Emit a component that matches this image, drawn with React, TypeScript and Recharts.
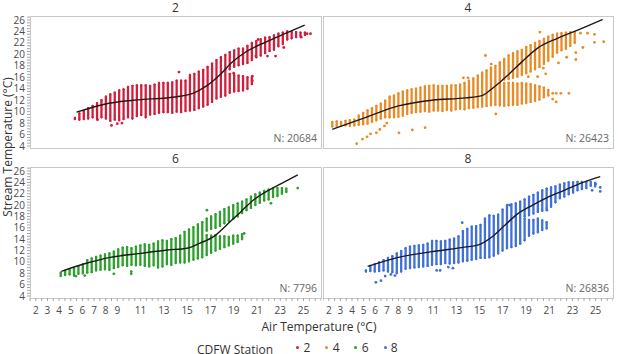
import React from "react";
import { ComposedChart, Scatter, Line, XAxis, YAxis, ErrorBar } from "recharts";

const FONT = "'Open Sans', sans-serif";

// air temperature is binned; every bin shows as one column of dots
const BIN = 0.38;

const X_LABELS = [2, 3, 4, 5, 6, 7, 8, 9, 11, 13, 15, 17, 19, 21, 23, 25];
const Y_LABELS = [4, 6, 8, 10, 12, 14, 16, 18, 20, 22, 24, 26];
const X_DOMAIN: [number, number] = [1.5, 26.5];
const Y_DOMAIN: [number, number] = [3.65, 26.7];
const X_TICKS = Array.from({ length: 51 }, (_, i) => 1.5 + i * 0.5);
const Y_TICKS = Array.from({ length: 46 }, (_, i) => 4 + i * 0.5);

// ---- station 2 ----
const RED_START = 5.36;
const RED_LO = [
  8.7, 8.6, 8.7, 8.8, 9.0, 8.7, 9.0, 8.8, 8.4, 8.6,
  8.5, 8.7, 9.0, 8.8, 9.2, 9.4, 9.0, 9.5, 9.6, 9.8,
  9.9, 9.9, 9.8, 10.0, 9.9, 10.1, 10.2, 10.3, 10.6, 10.9,
  11.2, 11.7, 12.3, 12.6, 12.8, 17.4, 17.8, 18.1, 18.3, 18.5,
  19.0, 19.5, 19.8, 20.2, 20.6, 20.8, 21.4, 21.8, 22.6, 22.8,
  23.0, 23.2, 23.4,
];
const RED_HI = [
  8.9, 9.7, 10.1, 10.6, 11.0, 11.5, 12.0, 12.6, 13.0, 13.3,
  13.7, 13.9, 14.3, 14.5, 14.6, 14.6, 14.6, 14.5, 14.7, 15.0,
  15.0, 15.0, 15.1, 15.4, 15.4, 15.4, 16.4, 16.6, 17.0, 17.3,
  17.8, 18.4, 19.0, 19.5, 19.9, 20.4, 20.7, 21.0, 21.0, 21.5,
  22.0, 22.3, 22.6, 22.9, 23.0, 23.3, 23.6, 23.8, 24.0, 23.9,
  23.9, 23.8, 23.8,
];
const RED_SPLIT_FROM = 35;
const RED_SPLIT_LO = [13.3, 13.5, 13.6, 13.7, 14.0, 14.8];
const RED_SPLIT_HI = [16.6, 16.4, 16.3, 16.2, 16.0, 15.9];
const RED_OUT = [
  [7.3, 8.6], [8.5, 7.6], [9.0, 7.9], [9.4, 8.0], [14.3, 16.9], [19.0, 16.7],
  [20.6, 15.4], [20.6, 16.2], [21.1, 22.6], [20.9, 19.7], [21.9, 19.7],
  [22.6, 19.7], [23.3, 21.2], [24.8, 23.0], [25.3, 23.6], [25.6, 23.6],
];
const RED_FIT_X = [5.5, 7.9, 10.4, 14.1, 15.5, 16.6, 17.8, 18.9, 20.1, 21.8, 23.5, 25.1];
const RED_FIT_Y = [9.9, 11.3, 12.0, 12.6, 13.2, 14.4, 16.4, 18.7, 20.5, 22.2, 23.7, 25.1];

// ---- station 4 ----
const ORANGE_START = 2.3;
const ORANGE_LO = [
  7.4, 7.5, 7.6, 7.6, 7.5, 7.6, 7.7, 7.8, 7.9, 8.2,
  8.5, 8.8, 9.0, 9.0, 9.0, 9.1, 9.3, 9.6, 9.8, 9.9,
  10.0, 10.1, 10.0, 10.2, 10.2, 10.1, 10.3, 10.2, 10.4, 10.5,
  10.4, 10.6, 10.7, 10.8, 10.9, 11.0, 11.1, 11.2, 15.5, 15.6,
  15.7, 15.9, 16.1, 16.4, 16.7, 17.0, 17.4, 17.8, 18.3, 18.9,
  19.6, 20.3, 20.7, 21.0, 21.5, 22.0,
];
const ORANGE_HI = [
  8.2, 8.3, 8.2, 8.4, 8.5, 8.6, 9.3, 9.8, 10.2, 10.6,
  11.0, 11.4, 11.9, 12.6, 12.8, 13.2, 13.5, 13.7, 13.9, 14.0,
  14.2, 14.4, 14.5, 14.6, 14.5, 14.5, 14.5, 14.6, 14.6, 14.7,
  15.0, 15.4, 15.8, 16.3, 16.8, 17.2, 17.7, 18.0, 18.6, 19.2,
  19.8, 20.2, 20.5, 20.8, 21.3, 21.6, 22.0, 22.3, 22.7, 23.1,
  23.4, 23.6, 23.7, 23.8, 23.9, 23.9,
];
const ORANGE_SPLIT_FROM = 38;
const ORANGE_SPLIT_LO = [11.1, 11.0, 11.1, 11.2, 11.2, 11.4, 11.5, 11.7, 11.9, 12.1, 12.5, 12.8];
const ORANGE_SPLIT_HI = [15.0, 15.0, 15.0, 15.0, 14.9, 15.0, 14.9, 14.8, 14.6, 14.4, 14.2, 13.8];
const ORANGE_OUT = [
  [4.4, 4.4], [4.9, 5.2], [5.3, 5.6], [5.6, 6.1], [6.1, 6.3], [6.4, 6.9],
  [6.8, 7.5], [7.0, 8.0], [8.05, 6.3], [9.2, 6.8], [10.3, 7.2], [16.4, 9.6],
  [13.6, 15.9], [14.0, 15.9], [15.5, 19.8], [16.0, 18.3], [20.2, 23.9],
  [19.2, 16.1], [20.0, 16.1], [20.7, 16.6], [20.5, 17.6], [21.8, 18.5],
  [22.5, 19.5], [23.3, 19.1], [23.3, 20.3], [23.9, 21.2], [24.9, 23.5],
  [24.9, 22.1], [25.7, 22.2], [24.3, 23.7], [23.7, 23.7], [21.3, 13.2],
  [21.6, 13.2], [22.0, 13.2], [22.7, 13.2], [21.3, 12.2], [21.6, 11.7],
];
const ORANGE_FIT_X = [2.3, 5.2, 8.0, 10.9, 13.8, 15.2, 16.3, 17.5, 18.6, 20.0, 21.7, 23.4, 25.6];
const ORANGE_FIT_Y = [6.9, 9.0, 11.0, 12.0, 12.4, 12.8, 14.4, 16.5, 18.6, 21.1, 22.8, 24.2, 26.1];

// ---- station 6 ----
const GREEN_START = 4.14;
const GREEN_LO = [
  7.5, 7.7, 7.8, 7.6, 7.9, 8.0, 8.1, 8.2, 8.5, 8.6,
  8.7, 8.6, 8.9, 9.1, 9.4, 9.3, 9.5, 9.4, 9.5, 9.3,
  9.2, 9.4, 9.0, 9.2, 9.6, 9.5, 9.8, 9.9, 9.9, 10.1,
  10.4, 10.6, 10.8, 15.5, 15.8, 16.0, 16.3, 16.8, 17.2, 17.6,
  18.0, 18.6, 19.1, 19.5, 20.0, 20.4, 20.8, 21.0, 21.4, 21.6,
  22.0, 22.3,
];
const GREEN_HI = [
  8.1, 8.4, 8.6, 8.9, 9.2, 9.6, 10.3, 10.6, 10.9, 11.1,
  11.3, 11.5, 11.8, 12.2, 12.5, 12.6, 12.4, 12.7, 12.9, 13.1,
  13.0, 13.2, 13.6, 13.8, 13.7, 14.0, 14.2, 14.6, 15.3, 15.7,
  16.1, 16.6, 17.0, 17.6, 18.0, 18.4, 18.8, 19.3, 19.6, 20.0,
  20.3, 20.6, 21.0, 21.5, 21.9, 22.2, 22.5, 22.7, 22.9, 23.0,
  23.0, 22.9,
];
const GREEN_SPLIT_FROM = 33;
const GREEN_SPLIT_LO = [11.2, 11.6, 12.0, 12.3, 12.6, 12.9, 13.2, 13.5, 14.0];
const GREEN_SPLIT_HI = [14.7, 14.6, 14.7, 14.5, 14.5, 14.4, 14.6, 14.6, 14.9];
const GREEN_OUT = [
  [5.45, 7.5], [6.2, 7.6], [8.7, 7.9], [10.2, 7.9], [10.2, 8.3],
  [16.7, 19.1], [22.2, 20.3], [24.5, 23.0], [19.9, 15.0],
];
const GREEN_FIT_X = [4.2, 6.4, 8.4, 11.0, 13.3, 15.0, 16.1, 17.3, 18.4, 19.6, 20.7, 21.9, 23.0, 24.5];
const GREEN_FIT_Y = [8.35, 9.8, 10.8, 11.5, 12.1, 12.4, 13.3, 14.5, 16.5, 18.8, 20.9, 22.5, 23.7, 25.3];

// ---- station 8 ----
const BLUE_START = 5.2;
const BLUE_LO = [
  8.3, 8.4, 8.3, 8.4, 8.5, 8.3, 8.2, 8.0, 8.3, 8.8,
  8.9, 9.0, 9.1, 9.2, 9.3, 9.5, 9.6, 9.6, 9.8, 9.7,
  9.8, 9.9, 10.1, 10.2, 10.4, 10.5, 10.7, 10.7, 10.8, 11.1,
  11.5, 12.0, 12.4, 12.6, 12.8, 13.2, 18.0, 18.2, 18.5, 18.8,
  19.0, 19.4, 19.7, 20.5, 21.2, 21.5, 21.9, 22.2, 22.6, 22.8,
  23.0, 23.4, 23.3,
];
const BLUE_HI = [
  8.5, 9.3, 9.6, 9.9, 10.3, 10.7, 11.0, 11.5, 11.9, 12.4,
  12.7, 12.8, 12.9, 13.0, 13.2, 13.7, 13.7, 13.6, 13.7, 13.9,
  14.1, 14.5, 15.4, 15.8, 16.2, 16.3, 16.5, 17.6, 18.2, 18.1,
  18.3, 19.2, 19.9, 20.1, 20.3, 20.6, 21.0, 21.5, 21.8, 22.2,
  22.6, 22.9, 23.1, 23.3, 23.6, 23.8, 24.0, 24.0, 24.1, 24.1,
  24.1, 24.1, 23.9,
];
const BLUE_SPLIT_FROM = 36;
const BLUE_SPLIT_LO = [13.8, 14.6, 15.0, 15.2, 15.6, 15.9];
const BLUE_SPLIT_HI = [17.6, 17.4, 17.4, 17.6, 17.3, 17.0];
const BLUE_OUT = [
  [6.06, 6.4], [6.5, 6.7], [6.86, 7.5], [7.35, 7.8], [7.7, 7.6],
  [11.3, 8.5], [11.6, 8.5], [12.3, 9.1], [12.7, 8.9], [13.5, 16.9],
  [17.4, 20.0], [17.6, 20.0], [20.8, 19.1], [25.0, 23.7], [25.4, 23.1],
  [25.4, 22.4], [24.7, 22.6],
];
const BLUE_FIT_X = [5.35, 8.0, 10.9, 13.7, 14.9, 16.0, 17.2, 18.3, 19.5, 20.9, 22.3, 23.8, 25.4];
const BLUE_FIT_Y = [9.2, 10.8, 11.8, 12.6, 13.0, 14.3, 16.5, 18.5, 19.9, 21.4, 22.6, 23.9, 25.0];

const NAMES = ["2", "4", "6", "8"];
const COLORS = ["#D21E3A", "#E98A25", "#2DA02D", "#3F6FDA"];
const COUNTS = [20684, 26423, 7796, 26836];

interface Station {
  name: string;
  color: string;
  n: number;
  start: number;
  lo: number[];
  hi: number[];
  splitFrom: number;
  splitLo: number[];
  splitHi: number[];
  outliers: number[][];
  fitX: number[];
  fitY: number[];
}

const STATIONS: Station[] = [
  { start: RED_START, lo: RED_LO, hi: RED_HI, splitFrom: RED_SPLIT_FROM, splitLo: RED_SPLIT_LO, splitHi: RED_SPLIT_HI, outliers: RED_OUT, fitX: RED_FIT_X, fitY: RED_FIT_Y },
  { start: ORANGE_START, lo: ORANGE_LO, hi: ORANGE_HI, splitFrom: ORANGE_SPLIT_FROM, splitLo: ORANGE_SPLIT_LO, splitHi: ORANGE_SPLIT_HI, outliers: ORANGE_OUT, fitX: ORANGE_FIT_X, fitY: ORANGE_FIT_Y },
  { start: GREEN_START, lo: GREEN_LO, hi: GREEN_HI, splitFrom: GREEN_SPLIT_FROM, splitLo: GREEN_SPLIT_LO, splitHi: GREEN_SPLIT_HI, outliers: GREEN_OUT, fitX: GREEN_FIT_X, fitY: GREEN_FIT_Y },
  { start: BLUE_START, lo: BLUE_LO, hi: BLUE_HI, splitFrom: BLUE_SPLIT_FROM, splitLo: BLUE_SPLIT_LO, splitHi: BLUE_SPLIT_HI, outliers: BLUE_OUT, fitX: BLUE_FIT_X, fitY: BLUE_FIT_Y },
].map((s, i) => ({ ...s, name: NAMES[i], color: COLORS[i], n: COUNTS[i] }));

// plot-area boxes of the 2x2 grid: [left, top, width, height]
const BOXES = [
  [30, 16, 291, 132],
  [323, 16, 290, 132],
  [30, 167, 291, 131],
  [323, 167, 290, 131],
];

const errOf = (p: any) => (p && p.payload ? p.payload.err : p.err);
const Hidden = () => <g />;

// only the labelled ticks get text; the half-step ticks keep just their tick mark
function makeTick(labels: number[], axis: "x" | "y") {
  return (props: any) => {
    const v = props.payload?.value;
    if (!labels.includes(v)) return <g />;
    return (
      <text
        x={props.x}
        y={props.y}
        textAnchor={axis === "x" ? "middle" : "end"}
        dy={axis === "x" ? "0.71em" : "0.355em"}
        fontSize={10}
        fill="#4a4a4a"
        fontFamily={FONT}
      >
        {v}
      </text>
    );
  };
}
const XTick = makeTick(X_LABELS, "x");
const YTick = makeTick(Y_LABELS, "y");

function Panel({ s, box, showX, showY }: { s: Station; box: number[]; showX: boolean; showY: boolean }) {
  const [left, top, w, h] = box;
  const pad = 8;
  const axisW = showY ? 30 : 0;
  const axisH = showX ? 28 : 0;

  const cols = s.lo.map((lo, i) => ({ x: s.start + i * BIN, y: lo, err: [0, s.hi[i] - lo] }));
  const split = s.splitLo.map((lo, i) => ({
    x: s.start + (s.splitFrom + i) * BIN,
    y: lo,
    err: [0, s.splitHi[i] - lo],
  }));
  const outs = s.outliers.map(([x, y]) => ({ x, y }));
  const fit = s.fitX.map((x, i) => ({ x, y: s.fitY[i] }));
  const dot = (p: any) => <circle cx={p.cx} cy={p.cy} r={1.4} fill={s.color} />;

  return (
    <>
      <div
        style={{
          position: "absolute", left, top, width: w + 1, height: h + 1,
          border: "1px solid #c8c8c8", boxSizing: "border-box",
        }}
      />
      <div style={{ position: "absolute", left: left - axisW, top: top - pad }}>
        <ComposedChart
          width={w + axisW}
          height={h + pad + (showX ? axisH : pad)}
          margin={{ top: pad, right: 0, bottom: showX ? 0 : pad, left: 0 }}
        >
          <XAxis
            type="number"
            dataKey="x"
            domain={X_DOMAIN}
            allowDataOverflow
            ticks={X_TICKS}
            interval={0}
            hide={!showX}
            height={axisH}
            axisLine={false}
            tickSize={3}
            tickMargin={6}
            tickLine={{ stroke: "#a8a8a8" }}
            tick={XTick}
          />
          <YAxis
            type="number"
            dataKey="y"
            domain={Y_DOMAIN}
            allowDataOverflow
            ticks={Y_TICKS}
            interval={0}
            hide={!showY}
            width={axisW}
            axisLine={false}
            tickSize={3}
            tickMargin={2}
            tickLine={{ stroke: "#a8a8a8" }}
            tick={YTick}
          />
          <Scatter data={cols} shape={Hidden} isAnimationActive={false}>
            <ErrorBar
              dataKey={errOf}
              direction="y"
              width={0}
              stroke={s.color}
              strokeWidth={2.3}
              strokeLinecap="round"
              isAnimationActive={false}
            />
          </Scatter>
          <Scatter data={split} shape={Hidden} isAnimationActive={false}>
            <ErrorBar
              dataKey={errOf}
              direction="y"
              width={0}
              stroke={s.color}
              strokeWidth={2.3}
              strokeLinecap="round"
              isAnimationActive={false}
            />
          </Scatter>
          <Scatter data={outs} shape={dot} isAnimationActive={false} />
          <Line
            data={fit}
            dataKey="y"
            type="monotone"
            stroke="#1a1a1a"
            strokeWidth={1.4}
            dot={false}
            isAnimationActive={false}
          />
        </ComposedChart>
      </div>
      <div
        style={{
          position: "absolute", left, top: top - 16, width: w, height: 16,
          lineHeight: "16px", textAlign: "center", fontSize: 12, color: "#333",
        }}
      >
        {s.name}
      </div>
      <div
        style={{
          position: "absolute", left, top: top + h - 17, width: w - 4, height: 14,
          lineHeight: "14px", textAlign: "right", fontSize: 10.5, color: "#666",
        }}
      >
        N: {s.n}
      </div>
    </>
  );
}

export default function App() {
  return (
    <div
      style={{
        position: "absolute", left: 0, top: 0, width: 618, height: 354,
        overflow: "hidden", background: "#fff", fontFamily: FONT,
      }}
    >
      {STATIONS.map((s, i) => (
        <Panel key={s.name} s={s} box={BOXES[i]} showX={i >= 2} showY={i % 2 === 0} />
      ))}

      {/* y-axis title, rotated, centred on y = 147 */}
      <svg
        width={14}
        height={170}
        style={{ position: "absolute", left: 0, top: 62, overflow: "visible" }}
      >
        <text
          transform="translate(11.5, 85) rotate(-90)"
          textAnchor="middle"
          fontSize={12}
          fill="#333"
          fontFamily={FONT}
        >
          Stream Temperature (°C)
        </text>
      </svg>
      <div
        style={{
          position: "absolute", left: 244, top: 319, width: 150, height: 16,
          lineHeight: "16px", textAlign: "center", fontSize: 12, color: "#333",
        }}
      >
        Air Temperature (°C)
      </div>

      <div
        style={{
          position: "absolute", left: 197, top: 342, height: 16, lineHeight: "16px",
          fontSize: 12, color: "#333", whiteSpace: "nowrap",
        }}
      >
        CDFW Station
      </div>
      {STATIONS.map((s, k) => (
        <React.Fragment key={s.name}>
          <div
            style={{
              position: "absolute", left: 296.2 + k * 29.1, top: 346, width: 3, height: 3,
              borderRadius: "50%", background: s.color,
            }}
          />
          <div
            style={{
              position: "absolute", left: 301 + k * 29.1, top: 340, width: 12, height: 16,
              lineHeight: "16px", textAlign: "center", fontSize: 12, color: "#333",
            }}
          >
            {s.name}
          </div>
        </React.Fragment>
      ))}
    </div>
  );
}
